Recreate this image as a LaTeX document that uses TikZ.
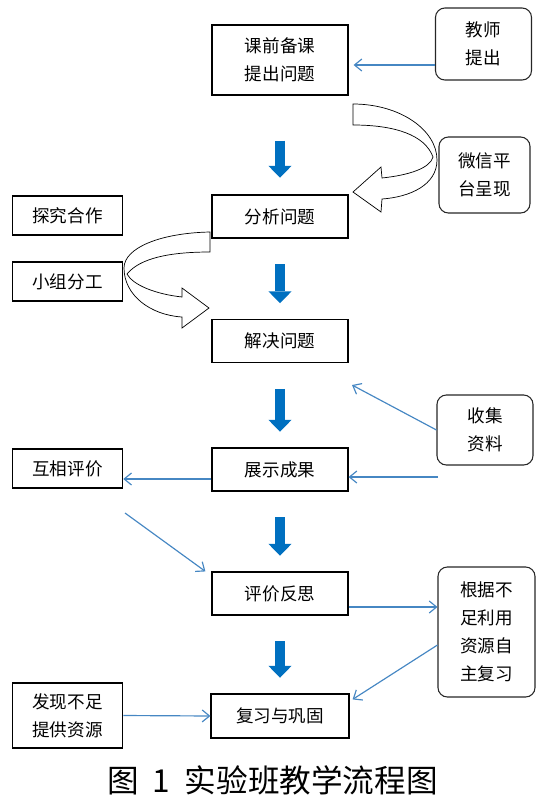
\documentclass[tikz,border=0pt]{standalone}
\usepackage{fontspec}
\setmainfont{Noto Sans CJK SC}
\usepackage{tikz}
\usepackage{xcolor}
\usetikzlibrary{arrows.meta, calc}

\definecolor{flowblue}{RGB}{0,112,192}
\definecolor{linkblue}{RGB}{70,135,195}

\begin{document}
\begin{tikzpicture}[x=0.03cm, y=-0.03cm,
  box/.style={draw, line width=1pt, font=\fontsize{15pt}{24pt}\selectfont, align=center, inner sep=0pt},
  mainbox/.style={box, minimum width=4.08cm, minimum height=1.29cm},
  sidebox/.style={box, line width=1.3pt, minimum width=3.3cm, minimum height=1.17cm},
  tipbox/.style={box, line width=0.9pt, draw=black!85, rounded corners=8pt, minimum width=2.88cm},
  flow/.style={line width=3mm, flowblue, -{Triangle[length=3.6mm, width=7mm, line width=0pt]}, shorten <=0.77cm, shorten >=0.47cm},
  link/.style={linkblue, line width=1pt, -{Straight Barb[length=2.2mm, width=3.6mm]}},
  hollow/.style={draw=black, fill=white, line width=0.6pt},
]
\useasboundingbox (0,0) rectangle (544,803);

% 主流程
\node[mainbox, minimum height=2.1cm] (kqbk) at (280,60) {课前备课\\提出问题};
\node[mainbox] (fxwt) at (280,216.5) {分析问题};
\node[mainbox] (jjwt) at (280,341) {解决问题};
\node[mainbox] (zscg) at (280,469.5) {展示成果};
\node[mainbox] (pjfs) at (280,593.5) {评价反思};
\node[mainbox, minimum width=4.14cm, minimum height=1.32cm] (fxgg) at (280,716) {复习与巩固};

% 左侧: 学生活动
\node[sidebox] (tjhz) at (67.5,215.5) {探究合作};
\node[sidebox] (xzfg) at (67.5,281.5) {小组分工};
\node[sidebox] (hxpj) at (67.5,468.5) {互相评价};
\node[sidebox, minimum height=1.95cm] (fxbz) at (67.5,715.5) {发现不足\\提供资源};

% 右侧: 资源
\node[tipbox, minimum height=2.16cm] (jsdc) at (483.5,44) {教师\\提出};
\node[tipbox, minimum width=2.73cm, minimum height=2.28cm] (wxpt) at (484.5,175) {微信平\\台呈现};
\node[tipbox, minimum height=2.1cm] (sjzl) at (485,430) {收集\\资料};
\node[tipbox, minimum width=2.91cm, minimum height=3.9cm] (gjbz) at (486.5,632) {根据不\\足利用\\资源自\\主复习};

% 图题
\node[font=\fontsize{27pt}{30pt}\selectfont] (title) at (272.5,780) {图\hspace{0.45em}1\hspace{0.45em}实验班教学流程图};

% 粗箭头
\draw[flow, shorten <=1.35cm, shorten >=0.5cm] (kqbk) -- (fxwt);
\foreach \a/\b in {fxwt/jjwt, jjwt/zscg, zscg/pjfs, pjfs/fxgg}
  \draw[flow] (\a) -- (\b);

% 细箭头
\coordinate (sjzlin) at (352,385);
\coordinate (sjzlout) at (438,477);
\coordinate (hxpjout) at (125,513);
\draw[link, shorten >=1.5mm] (jsdc.west |- 0,65) -- (kqbk.east |- 0,65);
\draw[link] (sjzl.west) -- (sjzlin);
\draw[link] (sjzlout) -- (sjzlout -| zscg.east);
\draw[link] (zscg.west |- 0,479) -- (hxpj.east |- 0,479);
\draw[link] (hxpjout) -- ([xshift=-0.18cm]pjfs.north west);
\draw[link] (pjfs.east |- 0,607) -- (gjbz.west |- 0,607);
\draw[link] (gjbz.west |- 0,645) -- ([shift={(0.09cm,-0.18cm)}]fxgg.north east);
\draw[link] (fxbz.east) -- (fxgg.west);

% 空心弯箭头
\draw[hollow] (353,104) .. controls (400,104) and (437,130) .. (437,160)
  .. controls (437,185) and (410,197) .. (382,199) -- (381,212) -- (353,192) -- (381,167) -- (382,178)
  .. controls (410,175) and (430,168) .. (433,157) .. controls (425,135) and (395,125) .. (353,125) -- cycle;
\draw[hollow] (210,232) .. controls (160,233) and (124,248) .. (124,268)
  .. controls (124,295) and (150,315) .. (182,317) -- (182,328) -- (209,308) -- (182,288) -- (182,297)
  .. controls (155,294) and (133,285) .. (127,274) .. controls (140,258) and (170,252) .. (210,252) -- cycle;

\end{tikzpicture}
\end{document}
